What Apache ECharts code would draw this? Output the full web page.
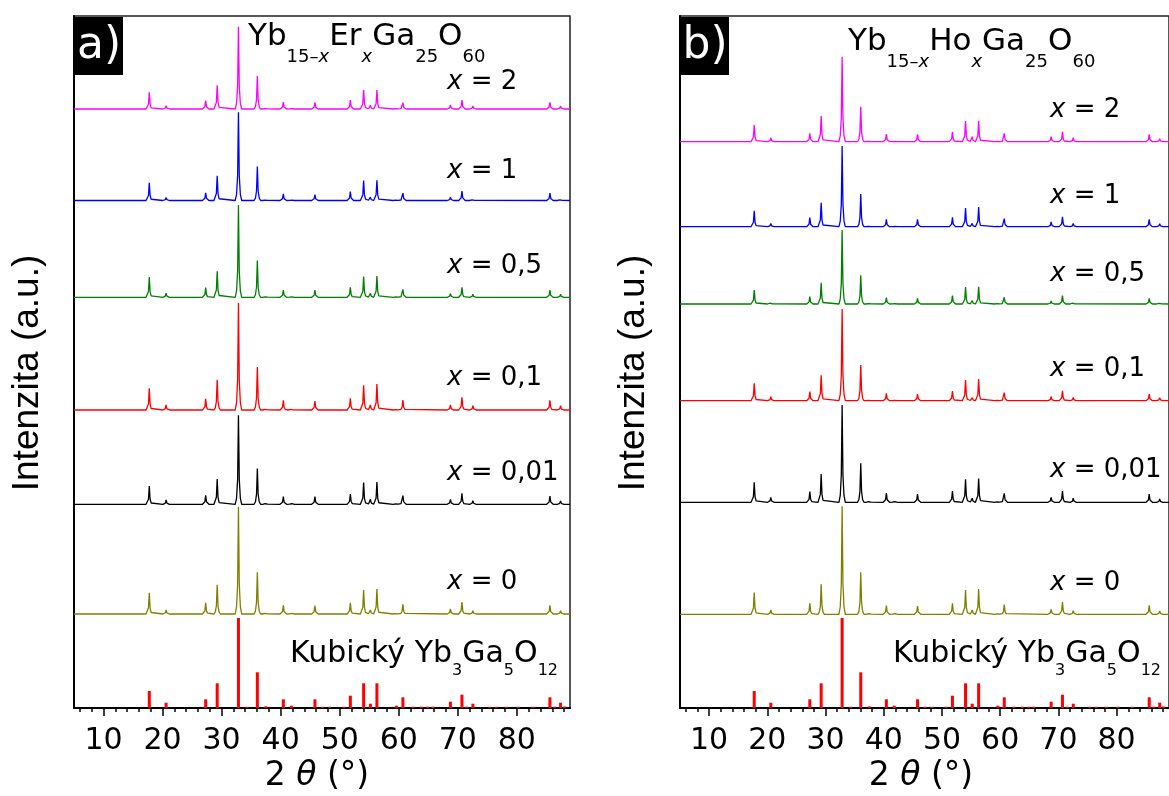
<!DOCTYPE html>
<html><head><meta charset="utf-8">
<script src="https://cdn.jsdelivr.net/npm/echarts@6/dist/echarts.min.js"></script>
<style>html,body{margin:0;padding:0;background:#fff}#c{width:1169px;height:796px}</style>
</head><body><div id="c"></div>
<script>
// ---- data ----
const scanRange = [5, 89];                       // 2θ range of the axes (°)
const xTicksMajor = [10, 20, 30, 40, 50, 60, 70, 80];
const xTicksMinor = [6, 8, 12, 14, 16, 18, 22, 24, 26, 28, 32, 34, 36, 38, 42, 44, 46, 48, 52, 54, 56, 58, 62, 64, 66, 68, 72, 74, 76, 78, 82, 84, 86, 88];
const peakPos = [17.75, 20.6, 27.3, 29.25, 32.85, 36.05, 37.5, 40.45, 41.8, 45.8, 51.8, 54.05, 55.2, 56.3, 59.6, 60.7, 68.75, 70.7, 72.55, 85.6, 87.4];

// panel a) Yb15-xErxGa25O60 – peak intensities (a.u.)
const aX2   = [16.7, 3.3, 8.3, 23.7, 82.3, 33, 1.5, 7, 1.5, 6.7, 9, 19, 3.7, 19, 1.5, 6.3, 4, 9, 3, 6.7, 3];
const aX1   = [17.7, 3, 7.7, 24.7, 88.3, 34, 1.5, 6.7, 1.5, 6, 9, 20, 3.3, 20.3, 1.5, 7.3, 3.3, 9.3, 2.3, 7.3, 2.3];
const aX05  = [20.3, 4, 9.7, 26, 92.3, 36.7, 1.5, 7.3, 1.5, 7.3, 10, 20.7, 4, 21.3, 1.5, 8, 3.7, 10, 3, 7.3, 3];
const aX01  = [21.7, 5, 11.3, 30.3, 107, 43, 2.3, 9.7, 2, 9, 11.7, 24.7, 5, 26, 1.5, 10, 5, 12.7, 4.3, 9.7, 4.3];
const aX001 = [18.3, 4.3, 9, 25.3, 89, 35.7, 2, 7.7, 2, 7.7, 10.3, 21.7, 5, 22.3, 1.5, 8.7, 5, 11, 3.7, 8.3, 3.3];
const aX0   = [21.3, 4, 11.3, 29.3, 107, 41.7, 2, 8.7, 2, 8.3, 11.3, 24, 4, 25, 1.5, 9.7, 5, 12, 3.3, 8.7, 3.3];
const offsetsA = [599, 507.5, 410.7, 298, 203.7, 94];

// panel b) Yb15-xHoxGa25O60 – peak intensities (a.u.)
const bX2   = [16.7, 4, 8.3, 25.7, 85, 35, 1.5, 7.7, 1.5, 7.3, 10, 20.7, 5, 21, 1.5, 8.3, 5, 10, 4, 7.3, 3];
const bX1   = [16, 3.3, 9, 24, 80.7, 32.7, 1.5, 7.3, 1.5, 7.3, 9.3, 18.7, 3.3, 19.7, 1.5, 8, 4.7, 10, 3.3, 7.3, 3];
const bX05  = [14, 2.7, 7.3, 21.3, 74, 28.7, 1.5, 6.3, 1.5, 5.7, 8.3, 17, 3.3, 17.3, 1.5, 6.7, 3, 8.3, 2.7, 5.7, 2.5];
const bX01  = [17.3, 4, 9, 25.3, 91.7, 35.7, 1.5, 7.3, 1.5, 6.7, 9.7, 20.7, 3, 21.7, 1.5, 8, 4, 10, 3.3, 6.7, 3];
const bX001 = [20, 5, 10.7, 28.3, 97.3, 39, 2, 9.3, 2, 8.3, 11.3, 23, 4, 23.7, 1.5, 9, 5, 11.3, 4, 8.3, 3.3];
const bX0   = [21.7, 4.3, 11, 30, 108, 42, 2, 8.7, 2, 8.3, 11, 24.3, 4.3, 25.3, 1.5, 9.7, 5, 12.3, 3.7, 9, 3.3];
const offsetsB = [566.3, 481.3, 404, 307.3, 205.7, 93.7];

// reference pattern: cubic Yb3Ga5O12
const refH = [17, 5.3, 8.7, 24.7, 90, 35.7, 1.7, 8.7, 2.3, 8.7, 12.3, 24.7, 4.3, 24.7, 2.3, 10.7, 6.3, 13.3, 4.3, 10.7, 5.3];
const refMinorPos = [34.3, 47.1, 48.3, 50.7, 62.4, 63.8, 64.9, 65.8, 71.5, 75.4, 76.5, 78.2, 80.2, 82.7, 86.4, 88.1];
const refMinorH = [1.2, 1.2, 1.2, 1.2, 1.3, 1.3, 1.3, 1.3, 1.3, 1.2, 1.2, 1.2, 1.2, 1.2, 1.3, 1.5];

const sampleLabels = ['2', '1', '0,5', '0,1', '0,01', '0'];
const colors = ['#ff00ff', '#0000ff', '#008000', '#ff0000', '#000000', '#808000'];

// ---- build ----
const Y_MAX = 692;
const F = 'DejaVu Sans';

function profile(heights, offset) {
  const pts = [[scanRange[0], offset]];
  peakPos.forEach((p, i) => {
    const h = heights[i];
    pts.push([p - 0.55, offset], [p - 0.32, offset + 0.07 * h], [p - 0.14, offset + 0.28 * h], [p, offset + h],
             [p + 0.14, offset + 0.28 * h], [p + 0.32, offset + 0.07 * h], [p + 0.55, offset]);
  });
  pts.push([scanRange[1], offset]);
  return pts;
}
const refBars = peakPos.map((p, i) => [p, refH[i]])
  .concat(refMinorPos.map((p, i) => [p, refMinorH[i]]))
  .sort((a, b) => a[0] - b[0]);

function xAxes(gi) {
  return [
    { type: 'value', gridIndex: gi, position: 'bottom', min: scanRange[0], max: scanRange[1],
      axisLine: { show: true, onZero: false, lineStyle: { color: '#000', width: 2 } },
      axisTick: { show: true, inside: false, length: 4, customValues: xTicksMinor, lineStyle: { color: '#000', width: 1.5 } },
      axisLabel: { show: false }, splitLine: { show: false } },
    { type: 'value', gridIndex: gi, position: 'bottom', min: scanRange[0], max: scanRange[1],
      axisLine: { show: false, onZero: false },
      axisTick: { show: true, inside: false, length: 8, customValues: xTicksMajor, lineStyle: { color: '#000', width: 1.5 } },
      axisLabel: { show: true, customValues: xTicksMajor, margin: 18, fontSize: 30, fontFamily: F, color: '#000' },
      splitLine: { show: false } }
  ];
}
function yAxis(gi) {
  return { type: 'value', gridIndex: gi, min: 0, max: Y_MAX,
    axisLine: { show: true, lineStyle: { color: '#000', width: 2 } },
    axisTick: { show: false }, axisLabel: { show: false }, splitLine: { show: false } };
}

const series = [];
[[aX2, aX1, aX05, aX01, aX001, aX0], [bX2, bX1, bX05, bX01, bX001, bX0]].forEach((set, gi) => {
  const offs = gi === 0 ? offsetsA : offsetsB;
  set.forEach((h, k) => {
    series.push({ type: 'line', xAxisIndex: gi * 2, yAxisIndex: gi, data: profile(h, offs[k]),
      symbol: 'none', lineStyle: { color: colors[k], width: 1.3 }, itemStyle: { color: colors[k] },
      animation: false, z: 3 });
  });
  series.push({ type: 'bar', xAxisIndex: gi * 2, yAxisIndex: gi, data: refBars, barWidth: 3,
    itemStyle: { color: '#ff0000' }, animation: false, z: 3 });
});

const labelYA = [82, 171, 266, 378, 473, 582];
const labelYB = [110, 196, 274, 369, 470, 583];
const graphics = [];
function addPanelText(tag, boxX, titleX, titleY, metal, labX, labYs, kubX, yTitleX, axTitleX) {
  graphics.push({ type: 'rect', z: 100, shape: { x: boxX, y: 17, width: 49, height: 58 }, style: { fill: '#000' } });
  graphics.push({ type: 'text', z: 101, x: boxX + 25, y: 47, style: { text: tag, fill: '#fff', fontSize: 44, fontFamily: F, align: 'center', verticalAlign: 'middle' } });
  graphics.push({ type: 'text', z: 101, x: titleX, y: titleY, style: {
    text: '{m|Yb}{s|15–}{si|x}{m|' + metal + '}{si|x}{m|Ga}{s|25}{m|O}{s|60}',
    fill: '#000', fontFamily: F, align: 'left', verticalAlign: 'middle',
    rich: { m: { fontSize: 31, fontFamily: F }, s: { fontSize: 18, fontFamily: F, padding: [41, 0, 0, 0] },
            si: { fontSize: 18, fontFamily: F, fontStyle: 'italic', padding: [41, 0, 0, 0] } } } });
  sampleLabels.forEach((l, k) => {
    graphics.push({ type: 'text', z: 101, x: labX, y: labYs[k], style: {
      text: '{i|x} = ' + l, fill: '#000', fontSize: 26, fontFamily: F, align: 'left', verticalAlign: 'middle',
      rich: { i: { fontSize: 26, fontFamily: F, fontStyle: 'italic' } } } });
  });
  graphics.push({ type: 'text', z: 101, x: kubX, y: 654, style: {
    text: '{m|Kubický Yb}{s|3}{m|Ga}{s|5}{m|O}{s|12}', fill: '#000', fontFamily: F, align: 'left', verticalAlign: 'middle',
    rich: { m: { fontSize: 30, fontFamily: F }, s: { fontSize: 16, fontFamily: F, padding: [33, 0, 0, 0] } } } });
  graphics.push({ type: 'text', z: 101, x: yTitleX, y: 373, rotation: Math.PI / 2, style: {
    text: 'Intenzita (a.u.)', fill: '#000', fontSize: 37, fontFamily: 'Liberation Sans', align: 'center', verticalAlign: 'middle' } });
  graphics.push({ type: 'text', z: 101, x: axTitleX, y: 776, style: {
    text: '2 {t|θ} (°)', fill: '#000', fontSize: 33, fontFamily: F, align: 'center', verticalAlign: 'middle',
    rich: { t: { fontSize: 33, fontFamily: F, fontStyle: 'italic' } } } });
}
addPanelText('a)', 74, 248, 37, 'Er', 447, labelYA, 290, 28, 317);
addPanelText('b)', 680, 848, 42, 'Ho', 1050, labelYB, 893, 634, 921);

const chart = echarts.init(document.getElementById('c'), null, { renderer: 'canvas' });
chart.setOption({
  backgroundColor: '#fff',
  animation: false,
  grid: [
    { left: 74, top: 16, width: 496, height: Y_MAX, show: true, borderColor: '#222', borderWidth: 1.5, backgroundColor: 'transparent' },
    { left: 680, top: 16, width: 496, height: Y_MAX, show: true, borderColor: '#222', borderWidth: 1.5, backgroundColor: 'transparent' }
  ],
  xAxis: xAxes(0).concat(xAxes(1)),
  yAxis: [yAxis(0), yAxis(1)],
  series: series,
  graphic: graphics
});
</script></body></html>
